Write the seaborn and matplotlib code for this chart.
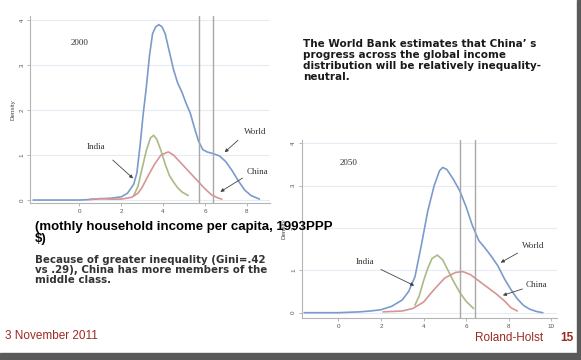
import matplotlib
matplotlib.use("Agg")
import matplotlib.pyplot as plt
import seaborn as sns

sns.set_theme(style="white")
plt.rcParams["font.family"] = ["Liberation Sans", "DejaVu Sans"]

# ── Data (log monthly income vs density) ──
world_2000_x = [-2.2, -1.0, 0.0, 0.5, 1.0, 1.5, 2.0, 2.3, 2.6, 2.75, 2.9, 3.05, 3.2, 3.35, 3.5,
                3.65, 3.8, 3.95, 4.1, 4.3, 4.5, 4.7, 4.9, 5.1, 5.3, 5.5, 5.7, 5.9, 6.1,
                6.4, 6.7, 7.0, 7.3, 7.6, 7.9, 8.2, 8.6]
world_2000_y = [0.0, 0.0, 0.0, 0.01, 0.03, 0.04, 0.07, 0.15, 0.35, 0.6, 1.2, 1.9, 2.5, 3.2, 3.7,
                3.85, 3.9, 3.85, 3.7, 3.3, 2.9, 2.6, 2.4, 2.15, 1.93, 1.6, 1.3, 1.12, 1.07,
                1.03, 0.98, 0.85, 0.65, 0.42, 0.22, 0.1, 0.02]
india_2000_x = [2.6, 2.8, 3.0, 3.2, 3.4, 3.55, 3.7, 3.9, 4.1, 4.3, 4.5, 4.7, 4.9, 5.2]
india_2000_y = [0.1, 0.3, 0.7, 1.1, 1.38, 1.44, 1.35, 1.1, 0.8, 0.55, 0.4, 0.27, 0.18, 0.1]
china_2000_x = [0.5, 1.0, 1.5, 2.0, 2.5, 2.8, 3.0, 3.3, 3.6, 3.9, 4.25, 4.5, 4.8, 5.1,
                5.4, 5.7, 6.0, 6.3, 6.6, 6.8]
china_2000_y = [0.02, 0.03, 0.02, 0.02, 0.06, 0.15, 0.28, 0.55, 0.8, 1.0, 1.07, 1.0, 0.85, 0.7,
                0.55, 0.4, 0.25, 0.12, 0.05, 0.02]

world_2050_x = [-1.6, 0.0, 1.0, 1.5, 2.0, 2.5, 3.0, 3.3, 3.6, 3.9, 4.2, 4.5, 4.75, 4.9,
                5.1, 5.4, 5.7, 6.0, 6.3, 6.6, 6.9, 7.2, 7.5, 7.8, 8.1, 8.4, 8.7, 9.0, 9.3, 9.6]
world_2050_y = [0.0, 0.0, 0.02, 0.04, 0.07, 0.15, 0.3, 0.5, 0.85, 1.6, 2.4, 3.0, 3.35, 3.43,
                3.38, 3.15, 2.88, 2.5, 2.05, 1.7, 1.52, 1.32, 1.1, 0.8, 0.55, 0.33, 0.17, 0.08, 0.03, 0.0]
india_2050_x = [3.6, 3.8, 4.0, 4.2, 4.4, 4.65, 4.9, 5.1, 5.4, 5.7, 6.0, 6.35]
india_2050_y = [0.18, 0.4, 0.75, 1.05, 1.28, 1.36, 1.25, 1.05, 0.75, 0.48, 0.27, 0.1]
china_2050_x = [2.1, 3.0, 3.5, 4.0, 4.5, 5.0, 5.5, 5.85, 6.2, 6.6, 7.0, 7.4, 7.8, 8.1, 8.4]
china_2050_y = [0.02, 0.04, 0.1, 0.25, 0.55, 0.82, 0.95, 0.97, 0.9, 0.75, 0.6, 0.45, 0.28, 0.12, 0.04]

thresholds = [5.7, 6.4]

c_world, c_india, c_china = "#7b9bcd", "#a9bb84", "#d79595"
dark_red = "#9b2a22"

fig = plt.figure(figsize=(5.81, 3.6), dpi=100)
fig.patch.set_facecolor("white")


def density_panel(ax, year, wx, wy, ix, iy, cx, cy, xlim, ylim, xticks, lbl):
    sns.lineplot(x=wx, y=wy, ax=ax, color=c_world, lw=1.2)
    sns.lineplot(x=ix, y=iy, ax=ax, color=c_india, lw=1.2)
    sns.lineplot(x=cx, y=cy, ax=ax, color=c_china, lw=1.2)
    for t in thresholds:
        ax.axvline(t, color="#a8a8a8", lw=1.0)
    ax.set_xlim(*xlim); ax.set_ylim(*ylim)
    ax.set_xticks(xticks); ax.set_yticks([0, 1, 2, 3, 4])
    ax.grid(axis="y", color="#e4ecf5", lw=0.8)
    ax.set_facecolor("none")
    for s in ["top", "right"]:
        ax.spines[s].set_visible(False)
    for s in ["left", "bottom"]:
        ax.spines[s].set_color("#b5b5b5"); ax.spines[s].set_linewidth(0.8)
    ax.tick_params(axis="both", length=2, width=0.5, color="#999999", pad=2,
                   labelsize=4.5, labelcolor="#555555", bottom=True, left=True)
    for t in ax.get_yticklabels():
        t.set_rotation(90); t.set_va("center")
    ax.set_ylabel("Density", fontsize=4.5, color="#444444", labelpad=3)
    ax.set_xlabel("")
    serif = dict(family="Liberation Serif", fontsize=6.5, color="#333333")
    ax.text(*lbl["year"], year, ha="center", va="center", **serif)
    for name in ["India", "World", "China"]:
        pos, start, tip = lbl[name]
        ax.text(*pos, name, ha="center", va="center", **serif)
        ax.annotate("", xy=tip, xytext=start,
                    arrowprops=dict(arrowstyle="-|>", color="#444444", lw=0.6,
                                    mutation_scale=5))


ax1 = fig.add_axes([0.0516, 0.4356, 0.413, 0.521])
density_panel(ax1, "2000", world_2000_x, world_2000_y, india_2000_x, india_2000_y,
              china_2000_x, china_2000_y, (-2.35, 9.1), (-0.07, 4.1), [0, 2, 4, 6, 8],
              {"year": (0.0, 3.5),
               "India": ((0.8, 1.18), (1.5, 0.93), (2.67, 0.44)),
               "World": ((8.4, 1.51), (7.67, 1.37), (6.84, 1.02)),
               "China": ((8.5, 0.62), (7.9, 0.52), (6.62, 0.15))})

ax2 = fig.add_axes([0.5193, 0.1161, 0.4387, 0.4953])
density_panel(ax2, "2050", world_2050_x, world_2050_y, india_2050_x, india_2050_y,
              china_2050_x, china_2050_y, (-1.72, 10.25), (-0.13, 4.08), [0, 2, 4, 6, 8, 10],
              {"year": (0.47, 3.53),
               "India": ((1.25, 1.2), (1.88, 1.05), (3.68, 0.61)),
               "World": ((9.15, 1.57), (8.53, 1.44), (7.51, 1.15)),
               "China": ((9.3, 0.65), (8.77, 0.58), (7.6, 0.39))})

# ── Slide text ──
fig.text(303 / 581, 1 - 39 / 360,
         "The World Bank estimates that China\u2019 s\nprogress across the global income\n"
         "distribution will be relatively inequality-\nneutral.",
         family="DejaVu Sans", fontsize=7.5, fontweight="bold", color="#1a1a1a",
         va="top", ha="left", linespacing=1.13)
fig.text(35 / 581, 1 - 221 / 360, "(mothly household income per capita, 1993PPP\n$)",
         fontsize=9.5, fontweight="bold", color="black", va="top", ha="left", linespacing=0.95)
fig.text(35 / 581, 1 - 255 / 360,
         "Because of greater inequality (Gini=.42\nvs .29), China has more members of the\n"
         "middle class.",
         family="DejaVu Sans", fontsize=7.4, fontweight="bold", color="#333333",
         va="top", ha="left", linespacing=0.98)
fig.text(5 / 581, 1 - 336 / 360, "3 November 2011", fontsize=8.5, color=dark_red,
         va="center", ha="left")
fig.text(475 / 581, 1 - 338 / 360, "Roland-Holst", fontsize=8.5, color=dark_red,
         va="center", ha="left")
fig.text(560 / 581, 1 - 338 / 360, "15", fontsize=8.5, color=dark_red, fontweight="bold",
         va="center", ha="left")

# dark frame strips: bottom and right edge
fig.patches.append(plt.Rectangle((0, 0), 1, 7 / 360, transform=fig.transFigure,
                                 color="#5a5a5a", zorder=5))
fig.patches.append(plt.Rectangle((577 / 581, 0), 4 / 581, 1, transform=fig.transFigure,
                                 color="#5a5a5a", zorder=5))

plt.savefig("out.png", dpi=100)
plt.close()
